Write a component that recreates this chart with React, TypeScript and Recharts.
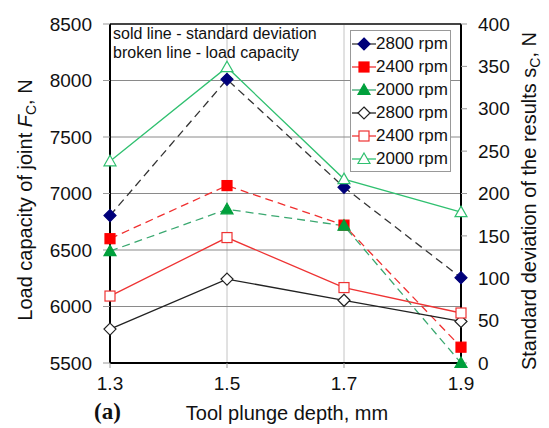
import React from 'react';
import { LineChart, Line, XAxis, YAxis, CartesianGrid, Legend, ReferenceLine, Customized } from 'recharts';

const depths = [1.3, 1.5, 1.7, 1.9];

// broken lines - load capacity (left axis)
const load2800 = [6805, 8010, 7055, 6255];
const load2400 = [6600, 7070, 6720, 5640];
const load2000 = [6490, 6860, 6715, 5500];

// solid lines - standard deviation (right axis)
const sd2800 = [40, 99, 74, 49];
const sd2400 = [79, 148, 89, 59];
const sd2000 = [238, 349, 217, 178];

const leftTicks = [5500, 6000, 6500, 7000, 7500, 8000, 8500];
const rightTicks = [0, 50, 100, 150, 200, 250, 300, 350, 400];

const data = depths.map((d, i) => ({
    depth: d,
    l2800: load2800[i],
    l2400: load2400[i],
    l2000: load2000[i],
    s2800: sd2800[i],
    s2400: sd2400[i],
    s2000: sd2000[i]
}));

type Shape = 'diamond' | 'square' | 'triangle';

interface Series {
    key: string;
    name: string;
    axis: 'left' | 'right';
    line: string;
    dash?: string;
    shape: Shape;
    filled: boolean;
    mark: string;
}

const series: Series[] = [
    { key: 'l2800', name: '2800 rpm', axis: 'left', line: '#333', dash: '8 5', shape: 'diamond', filled: true, mark: '#00007a' },
    { key: 'l2400', name: '2400 rpm', axis: 'left', line: '#f03030', dash: '8 5', shape: 'square', filled: true, mark: '#ff0000' },
    { key: 'l2000', name: '2000 rpm', axis: 'left', line: '#3aa870', dash: '8 5', shape: 'triangle', filled: true, mark: '#00a03c' },
    { key: 's2800', name: '2800 rpm', axis: 'right', line: '#222', shape: 'diamond', filled: false, mark: '#222' },
    { key: 's2400', name: '2400 rpm', axis: 'right', line: '#ee3333', shape: 'square', filled: false, mark: '#ee3333' },
    { key: 's2000', name: '2000 rpm', axis: 'right', line: '#30c070', shape: 'triangle', filled: false, mark: '#30c070' }
];

const Marker = ({ cx, cy, s }: { cx: number; cy: number; s: Series }) => {
    const fill = s.filled ? s.mark : '#fff';
    const stroke = s.mark;
    if (s.shape === 'diamond') {
        const r = 6;
        return <path d={`M${cx},${cy - r}L${cx + r},${cy}L${cx},${cy + r}L${cx - r},${cy}Z`} fill={fill} stroke={stroke} strokeWidth={1.2} />;
    }
    if (s.shape === 'square') {
        const r = 5;
        return <rect x={cx - r} y={cy - r} width={2 * r} height={2 * r} fill={fill} stroke={stroke} strokeWidth={1.2} />;
    }
    const r = 6;
    return <path d={`M${cx},${cy - r}L${cx + r},${cy + r * 0.75}L${cx - r},${cy + r * 0.75}Z`} fill={fill} stroke={stroke} strokeWidth={1.2} />;
};

const LegendBox = () => (
    <div style={{ border: '1px solid #999', background: '#fff', padding: '1px 2px 1px 0px', fontFamily: 'Liberation Sans, Arial, sans-serif', fontSize: 17, color: '#111' }}>
        {series.map((s) => (
            <div key={s.key} style={{ display: 'flex', alignItems: 'center', height: 23 }}>
                <svg width={25} height={20}>
                    <line x1={1} y1={10} x2={25} y2={10} stroke={s.line} strokeWidth={1.3} />
                    <Marker cx={13} cy={10} s={s} />
                </svg>
                <span>{s.name}</span>
            </div>
        ))}
    </div>
);

const Texts = () => (
    <g fontFamily="Liberation Sans, Arial, sans-serif" fill="#111">
        <text x={113} y={39} fontSize={16}>sold line - standard deviation</text>
        <text x={113} y={58} fontSize={16}>broken line - load capacity</text>
        <text transform="translate(32,200) rotate(-90)" textAnchor="middle" fontSize={20}>
            <tspan>Load capacity of joint </tspan>
            <tspan fontStyle="italic">F</tspan>
            <tspan fontSize={14} dy={4}>C</tspan>
            <tspan dy={-4}>, N</tspan>
        </text>
        <text transform="translate(536,201) rotate(-90)" textAnchor="middle" fontSize={20}>
            <tspan>Standard deviation of the results s</tspan>
            <tspan fontSize={14} dy={4}>C</tspan>
            <tspan dy={-4}>, N</tspan>
        </text>
        <text x={287} y={420} textAnchor="middle" fontSize={20}>Tool plunge depth, mm</text>
        <text x={94} y={419} fontSize={23} fontWeight="bold" fontFamily="Liberation Serif, Times New Roman, serif">(a)</text>
    </g>
);

const tickStyle = { fill: '#111', fontSize: 19, fontFamily: 'Liberation Sans, Arial, sans-serif' };

export default function App() {
    return (
        <div style={{ position: 'absolute', left: 0, top: 0, background: '#fff' }}>
            <LineChart width={549} height={428} data={data} margin={{ top: 24, right: 28, bottom: 25, left: 50 }}>
                <CartesianGrid yAxisId="left" horizontal={false} stroke="#c4c4c4" strokeWidth={1} />
                <CartesianGrid yAxisId="left" vertical={false} stroke="#8a8a8a" strokeWidth={1} />
                <XAxis
                    dataKey="depth"
                    type="number"
                    domain={[1.3, 1.9]}
                    ticks={depths}
                    tickFormatter={(v) => Number(v).toFixed(1)}
                    tick={tickStyle}
                    tickSize={5}
                    tickMargin={9}
                    height={40}
                    axisLine={{ stroke: '#000', strokeWidth: 2 }}
                    tickLine={{ stroke: '#999' }}
                />
                <YAxis
                    yAxisId="left"
                    domain={[5500, 8500]}
                    ticks={leftTicks}
                    tick={tickStyle}
                    width={60}
                    tickSize={7}
                    tickMargin={11}
                    axisLine={{ stroke: '#000', strokeWidth: 2 }}
                    tickLine={{ stroke: '#999' }}
                />
                <YAxis
                    yAxisId="right"
                    orientation="right"
                    domain={[0, 400]}
                    ticks={rightTicks}
                    tick={tickStyle}
                    width={60}
                    tickSize={6}
                    tickMargin={11}
                    axisLine={{ stroke: '#000', strokeWidth: 2 }}
                    tickLine={{ stroke: '#999' }}
                />
                <ReferenceLine yAxisId="left" y={8500} stroke="#444" strokeWidth={2} />
                {series.map((s) => (
                    <Line
                        key={s.key}
                        yAxisId={s.axis}
                        dataKey={s.key}
                        name={s.name}
                        type="linear"
                        stroke={s.line}
                        strokeWidth={1.3}
                        strokeDasharray={s.dash}
                        isAnimationActive={false}
                        dot={(p: any) => <Marker key={`${s.key}-${p.index}`} cx={p.cx} cy={p.cy} s={s} />}
                        activeDot={false}
                    />
                ))}
                <Legend
                    layout="horizontal"
                    verticalAlign="middle"
                    align="center"
                    content={() => <LegendBox />}
                    wrapperStyle={{ position: 'absolute', left: 350, top: 30, width: 'auto', height: 'auto' }}
                />
                <Customized component={Texts} />
            </LineChart>
        </div>
    );
}
